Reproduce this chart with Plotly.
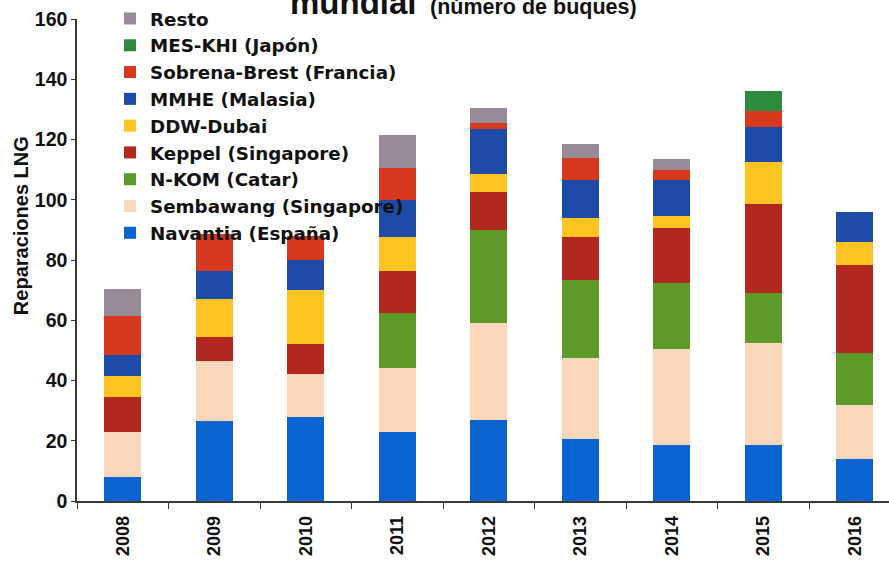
import plotly.graph_objects as go

years = ["2008", "2009", "2010", "2011", "2012", "2013", "2014", "2015", "2016"]

navantia = [8, 26.5, 28, 23, 27, 20.5, 18.5, 18.5, 14]
sembawang = [15, 20, 14, 21, 32, 27, 32, 34, 18]
nkom = [0, 0, 0, 18.5, 31, 26, 22, 16.5, 17]
keppel = [11.5, 8, 10, 14, 12.5, 14, 18, 29.5, 29.5]
ddw = [7, 12.5, 18, 11, 6, 6.5, 4, 14, 7.5]
mmhe = [7, 9.5, 10, 12.5, 15, 12.5, 12, 11.5, 10]
sobrena = [13, 12, 8, 10.5, 2, 7.5, 3.5, 5.5, 0]
meskhi = [0, 0, 0, 0, 0, 0, 0, 6.5, 0]
resto = [9, 0, 0, 11, 5, 4.5, 3.5, 0, 0]

series = [
    ("Navantia (España)", navantia, "#0A63CE"),
    ("Sembawang (Singapore)", sembawang, "#FBD8BB"),
    ("N-KOM (Catar)", nkom, "#5E9A28"),
    ("Keppel (Singapore)", keppel, "#B2281F"),
    ("DDW-Dubai", ddw, "#FEC422"),
    ("MMHE (Malasia)", mmhe, "#1E4AA8"),
    ("Sobrena-Brest (Francia)", sobrena, "#D6391E"),
    ("MES-KHI (Japón)", meskhi, "#2E8A3E"),
    ("Resto", resto, "#968B96"),
]

fig = go.Figure()
for name, vals, col in series:
    fig.add_trace(go.Bar(
        x=years, y=vals, name=name,
        marker=dict(color=col, line=dict(width=0)),
    ))

W, H = 889, 565
ml, mr, mt, mb = 77, 0, 17, 64
pw, ph = W - ml - mr, H - mt - mb

def px_x(p):
    return (p - ml) / pw

def px_y(p):
    return (H - mb - p) / ph

axis_col = "#3a3a3a"
bold_font = "Liberation Sans, Arial, sans-serif"

fig.update_layout(
    width=W, height=H, autosize=False,
    margin=dict(l=ml, r=mr, t=mt, b=mb, pad=0),
    paper_bgcolor="white", plot_bgcolor="white",
    barmode="stack", bargap=0.595,
    font=dict(family=bold_font, color="#111"),
    showlegend=True,
    legend=dict(
        x=px_x(110), y=px_y(-2), xanchor="left", yanchor="top",
        traceorder="reversed",
        bgcolor="rgba(0,0,0,0)",
        font=dict(family="DejaVu Sans, sans-serif", size=18.3, color="#111", weight="bold"),
        borderwidth=0,
    ),
    xaxis=dict(
        type="category", range=[-0.5, 8.374],
        showline=True, linecolor=axis_col, linewidth=1.5,
        ticks="outside", tickson="boundaries", ticklen=6, tickcolor=axis_col, tickwidth=1,
        tickangle=-90, ticklabelstandoff=6,
        tickfont=dict(size=18, weight="bold", color="#111"),
        showgrid=False, zeroline=False, fixedrange=True,
    ),
    yaxis=dict(
        range=[0, 160], tickvals=[0, 20, 40, 60, 80, 100, 120, 140, 160],
        showline=True, linecolor=axis_col, linewidth=1.5,
        ticks="outside", ticklen=4, tickcolor=axis_col, tickwidth=1,
        tickfont=dict(size=19.5, weight="bold", color="#111"),
        showgrid=False, zeroline=False, fixedrange=True,
    ),
    annotations=[
        dict(text="<b>Reparaciones LNG</b>", xref="paper", yref="paper",
             x=px_x(21), y=px_y(225), xanchor="center", yanchor="middle",
             textangle=-90, showarrow=False, font=dict(size=20, color="#111")),
        dict(text="<b>mundial</b>", xref="paper", yref="paper",
             x=px_x(288), y=px_y(21), xanchor="left", yanchor="bottom",
             showarrow=False, font=dict(size=33, color="#111")),
        dict(text="<b>(número de buques)</b>", xref="paper", yref="paper",
             x=px_x(428), y=px_y(19), xanchor="left", yanchor="bottom",
             showarrow=False, font=dict(size=21.5, color="#111")),
    ],
)

fig.write_html("out.html", config={"displayModeBar": False},
               post_script="document.body.style.margin='0px';")
